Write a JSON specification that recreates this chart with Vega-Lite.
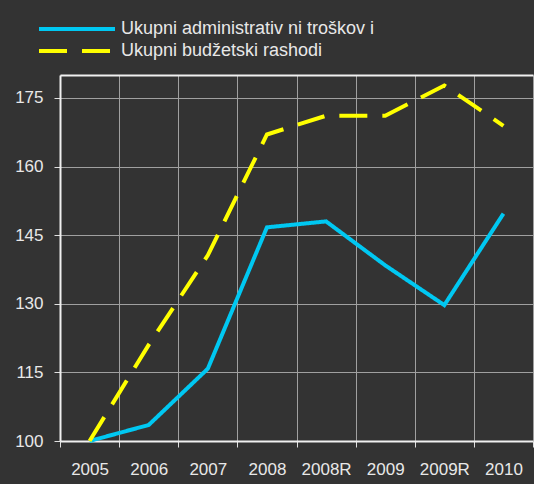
{
  "$schema": "https://vega.github.io/schema/vega-lite/v6.json",
  "width": 473,
  "height": 366,
  "autosize": {"type": "none"},
  "padding": {"left": 60, "top": 75, "right": 1, "bottom": 43},
  "background": "#333333",
  "config": {
    "view": {"stroke": null},
    "font": "Liberation Sans",
    "legend": {
      "orient": "none",
      "legendX": 41,
      "legendY": -55,
      "padding": 0,
      "symbolType": "M-14.2,0H1",
      "symbolSize": 100,
      "symbolStrokeWidth": 4,
      "labelFont": "Liberation Sans",
      "labelFontSize": 18,
      "labelColor": "#e8e8e8",
      "labelOffset": 2,
      "rowPadding": 4,
      "labelLimit": 400
    }
  },
  "data": {
    "values": [
      {"year": "2005", "series": "Ukupni administrativ ni troškov i", "value": 100},
      {"year": "2006", "series": "Ukupni administrativ ni troškov i", "value": 103.5},
      {"year": "2007", "series": "Ukupni administrativ ni troškov i", "value": 115.8},
      {"year": "2008", "series": "Ukupni administrativ ni troškov i", "value": 146.7},
      {"year": "2008R", "series": "Ukupni administrativ ni troškov i", "value": 148.0},
      {"year": "2009", "series": "Ukupni administrativ ni troškov i", "value": 138.4},
      {"year": "2009R", "series": "Ukupni administrativ ni troškov i", "value": 129.7},
      {"year": "2010", "series": "Ukupni administrativ ni troškov i", "value": 149.7},
      {"year": "2005", "series": "Ukupni budžetski rashodi", "value": 100},
      {"year": "2006", "series": "Ukupni budžetski rashodi", "value": 121},
      {"year": "2007", "series": "Ukupni budžetski rashodi", "value": 140.6},
      {"year": "2008", "series": "Ukupni budžetski rashodi", "value": 167},
      {"year": "2008R", "series": "Ukupni budžetski rashodi", "value": 171.1},
      {"year": "2009", "series": "Ukupni budžetski rashodi", "value": 171.1},
      {"year": "2009R", "series": "Ukupni budžetski rashodi", "value": 177.7},
      {"year": "2010", "series": "Ukupni budžetski rashodi", "value": 168.9}
    ]
  },
  "mark": {"type": "line", "strokeWidth": 4, "strokeJoin": "miter"},
  "encoding": {
    "x": {
      "field": "year",
      "type": "ordinal",
      "sort": null,
      "bandPosition": 0.5,
      "scale": {"type": "band", "paddingInner": 0, "paddingOuter": 0},
      "axis": {
        "title": null,
        "tickBand": "extent",
        "labelAngle": 0,
        "labelFont": "Liberation Sans",
        "labelFontSize": 17,
        "labelColor": "#e8e8e8",
        "labelPadding": 14,
        "domainColor": "#f0f0f0",
        "domainWidth": 2,
        "tickColor": "#e0e0e0",
        "tickWidth": 1,
        "tickSize": 6,
        "grid": true,
        "gridColor": "#a0a0a0",
        "gridWidth": 1
      }
    },
    "y": {
      "field": "value",
      "type": "quantitative",
      "scale": {"domain": [100, 180], "nice": false, "zero": false},
      "axis": {
        "title": null,
        "values": [100, 115, 130, 145, 160, 175, 180],
        "labelExpr": "datum.value === 180 ? '' : datum.label",
        "labelFont": "Liberation Sans",
        "labelFontSize": 17,
        "labelColor": "#e8e8e8",
        "labelPadding": 11,
        "domainColor": "#f0f0f0",
        "domainWidth": 2,
        "tickColor": "#e0e0e0",
        "tickWidth": 1,
        "tickSize": 6,
        "tickOpacity": {"condition": {"test": "datum.value === 180", "value": 0}, "value": 1},
        "grid": true,
        "gridColor": {"condition": {"test": "datum.value === 180", "value": "#f0f0f0"}, "value": "#a0a0a0"},
        "gridWidth": {"condition": {"test": "datum.value === 180", "value": 2}, "value": 1}
      }
    },
    "color": {
      "field": "series",
      "type": "nominal",
      "title": null,
      "scale": {
        "domain": ["Ukupni administrativ ni troškov i", "Ukupni budžetski rashodi"],
        "range": ["#00c8f2", "#ffff00"]
      }
    },
    "strokeDash": {
      "field": "series",
      "type": "nominal",
      "title": null,
      "scale": {
        "domain": ["Ukupni administrativ ni troškov i", "Ukupni budžetski rashodi"],
        "range": [[1, 0], [28, 15]]
      }
    }
  }
}
